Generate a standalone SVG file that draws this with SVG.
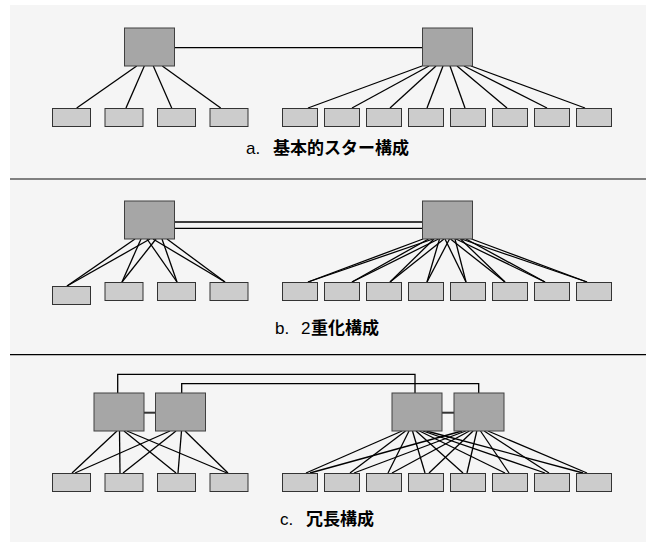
<svg xmlns="http://www.w3.org/2000/svg" width="650" height="542" viewBox="0 0 650 542">
<style>
.bg{fill:#f5f5f5}
.hub{fill:#a6a6a6;stroke:#404040;stroke-width:1}
.leaf{fill:#cccccc;stroke:#333333;stroke-width:1}
.ln{stroke:#000;stroke-width:1.3;fill:none}
.lbl{font-family:"Liberation Sans","Noto Sans CJK JP",sans-serif;font-size:17px;fill:#000}
.jp{font-family:"Noto Sans CJK JP","Liberation Sans",sans-serif;font-weight:bold}
</style>
<rect class="bg" x="10" y="5" width="636" height="537"/>
<line x1="10" y1="179" x2="646" y2="179" stroke="#808080" stroke-width="2"/>
<line x1="10" y1="354.6" x2="646" y2="354.6" stroke="#000" stroke-width="1.4"/>

<g id="connectors">
  <!-- panel a -->
  <line class="ln" x1="174" y1="47.7" x2="422" y2="47.7"/>
  <line class="ln" x1="136.7" y1="66" x2="76.7" y2="108"/>
  <line class="ln" x1="144.3" y1="66" x2="126" y2="108"/>
  <line class="ln" x1="153.3" y1="66" x2="171.7" y2="108"/>
  <line class="ln" x1="162.3" y1="66" x2="220.7" y2="108"/>
  <line class="ln" x1="422" y1="66" x2="308" y2="108"/>
  <line class="ln" x1="429" y1="66" x2="352" y2="108"/>
  <line class="ln" x1="436" y1="66" x2="390" y2="108"/>
  <line class="ln" x1="443" y1="66" x2="427" y2="108"/>
  <line class="ln" x1="450" y1="66" x2="465" y2="108"/>
  <line class="ln" x1="457" y1="66" x2="507" y2="108"/>
  <line class="ln" x1="464" y1="66" x2="547" y2="108"/>
  <line class="ln" x1="471" y1="66" x2="585" y2="108"/>
  <!-- panel b -->
  <line class="ln" x1="174" y1="222" x2="422" y2="222"/>
  <line class="ln" x1="174" y1="228.3" x2="422" y2="228.3"/>
  <line class="ln" x1="135" y1="239" x2="67" y2="286"/>
  <line class="ln" x1="141" y1="239" x2="122" y2="282"/>
  <line class="ln" x1="147" y1="239" x2="177" y2="282"/>
  <line class="ln" x1="153" y1="239" x2="225" y2="282"/>
  <line class="ln" x1="150" y1="239" x2="67" y2="286"/>
  <line class="ln" x1="156" y1="239" x2="122" y2="282"/>
  <line class="ln" x1="162" y1="239" x2="177" y2="282"/>
  <line class="ln" x1="167" y1="239" x2="225" y2="282"/>
  <line class="ln" x1="423" y1="239" x2="308" y2="282"/>
  <line class="ln" x1="428.5" y1="239" x2="352" y2="282"/>
  <line class="ln" x1="434" y1="239" x2="390" y2="282"/>
  <line class="ln" x1="439.5" y1="239" x2="427" y2="282"/>
  <line class="ln" x1="445" y1="239" x2="466" y2="282"/>
  <line class="ln" x1="450.5" y1="239" x2="505" y2="282"/>
  <line class="ln" x1="456" y1="239" x2="545" y2="282"/>
  <line class="ln" x1="461.5" y1="239" x2="587" y2="282"/>
  <line class="ln" x1="433" y1="239" x2="308" y2="282"/>
  <line class="ln" x1="438.5" y1="239" x2="352" y2="282"/>
  <line class="ln" x1="444" y1="239" x2="390" y2="282"/>
  <line class="ln" x1="449.5" y1="239" x2="427" y2="282"/>
  <line class="ln" x1="455" y1="239" x2="466" y2="282"/>
  <line class="ln" x1="460.5" y1="239" x2="505" y2="282"/>
  <line class="ln" x1="466" y1="239" x2="545" y2="282"/>
  <line class="ln" x1="471.5" y1="239" x2="587" y2="282"/>
  <!-- panel c -->
  <polyline class="ln" points="117.7,393 117.7,374.3 415,374.3 415,393"/>
  <polyline class="ln" points="181.7,393 181.7,383.7 478.7,383.7 478.7,393"/>
  <line x1="144" y1="412.7" x2="155" y2="412.7" stroke="#333" stroke-width="2"/>
  <line x1="442" y1="412.7" x2="454" y2="412.7" stroke="#333" stroke-width="2"/>
  <line class="ln" x1="117" y1="431" x2="72" y2="473"/>
  <line class="ln" x1="119.5" y1="431" x2="120" y2="473"/>
  <line class="ln" x1="124" y1="431" x2="176" y2="473"/>
  <line class="ln" x1="127" y1="431" x2="227" y2="473"/>
  <line class="ln" x1="170" y1="431" x2="75" y2="473"/>
  <line class="ln" x1="176" y1="431" x2="123" y2="473"/>
  <line class="ln" x1="181.5" y1="431" x2="178" y2="473"/>
  <line class="ln" x1="185" y1="431" x2="228" y2="473"/>
  <line class="ln" x1="402" y1="431" x2="306" y2="473"/>
  <line class="ln" x1="405.5" y1="431" x2="350" y2="473"/>
  <line class="ln" x1="409" y1="431" x2="388" y2="473"/>
  <line class="ln" x1="412.5" y1="431" x2="425" y2="473"/>
  <line class="ln" x1="416" y1="431" x2="463" y2="473"/>
  <line class="ln" x1="419.5" y1="431" x2="505" y2="473"/>
  <line class="ln" x1="423" y1="431" x2="545" y2="473"/>
  <line class="ln" x1="426.5" y1="431" x2="583" y2="473"/>
  <line class="ln" x1="462" y1="431" x2="310" y2="473"/>
  <line class="ln" x1="465.7" y1="431" x2="354" y2="473"/>
  <line class="ln" x1="469.4" y1="431" x2="392" y2="473"/>
  <line class="ln" x1="473.1" y1="431" x2="429" y2="473"/>
  <line class="ln" x1="476.8" y1="431" x2="467" y2="473"/>
  <line class="ln" x1="480.5" y1="431" x2="509" y2="473"/>
  <line class="ln" x1="484.2" y1="431" x2="549" y2="473"/>
  <line class="ln" x1="488" y1="431" x2="587" y2="473"/>
</g>

<!-- panel a nodes -->
<g id="a-hub-left"><rect class="hub" x="124.5" y="28" width="50" height="38"/></g>
<g id="a-hub-right"><rect class="hub" x="422.5" y="28" width="50" height="38"/></g>
<g id="a-leaf-l1"><rect class="leaf" x="52.5" y="108.5" width="38" height="18"/></g>
<g id="a-leaf-l2"><rect class="leaf" x="105" y="108.5" width="38" height="18"/></g>
<g id="a-leaf-l3"><rect class="leaf" x="157.5" y="108.5" width="38" height="18"/></g>
<g id="a-leaf-l4"><rect class="leaf" x="210" y="108.5" width="38" height="18"/></g>
<g id="a-leaf-r1"><rect class="leaf" x="282.5" y="108.5" width="35" height="18"/></g>
<g id="a-leaf-r2"><rect class="leaf" x="324.5" y="108.5" width="35" height="18"/></g>
<g id="a-leaf-r3"><rect class="leaf" x="366.5" y="108.5" width="35" height="18"/></g>
<g id="a-leaf-r4"><rect class="leaf" x="408.5" y="108.5" width="35" height="18"/></g>
<g id="a-leaf-r5"><rect class="leaf" x="450.5" y="108.5" width="35" height="18"/></g>
<g id="a-leaf-r6"><rect class="leaf" x="492.5" y="108.5" width="35" height="18"/></g>
<g id="a-leaf-r7"><rect class="leaf" x="534.5" y="108.5" width="35" height="18"/></g>
<g id="a-leaf-r8"><rect class="leaf" x="576.5" y="108.5" width="35" height="18"/></g>
<g id="a-label"><text class="lbl" y="154"><tspan x="246">a.</tspan><tspan class="jp" x="273">基本的スター構成</tspan></text></g>

<!-- panel b nodes -->
<g id="b-hub-left"><rect class="hub" x="124.5" y="201" width="50" height="38"/></g>
<g id="b-hub-right"><rect class="hub" x="422.5" y="201" width="50" height="38"/></g>
<g id="b-leaf-l1"><rect class="leaf" x="52.5" y="286.5" width="38" height="18"/></g>
<g id="b-leaf-l2"><rect class="leaf" x="105" y="282.5" width="38" height="18"/></g>
<g id="b-leaf-l3"><rect class="leaf" x="157.5" y="282.5" width="38" height="18"/></g>
<g id="b-leaf-l4"><rect class="leaf" x="210" y="282.5" width="38" height="18"/></g>
<g id="b-leaf-r1"><rect class="leaf" x="282.5" y="282.5" width="35" height="18"/></g>
<g id="b-leaf-r2"><rect class="leaf" x="324.5" y="282.5" width="35" height="18"/></g>
<g id="b-leaf-r3"><rect class="leaf" x="366.5" y="282.5" width="35" height="18"/></g>
<g id="b-leaf-r4"><rect class="leaf" x="408.5" y="282.5" width="35" height="18"/></g>
<g id="b-leaf-r5"><rect class="leaf" x="450.5" y="282.5" width="35" height="18"/></g>
<g id="b-leaf-r6"><rect class="leaf" x="492.5" y="282.5" width="35" height="18"/></g>
<g id="b-leaf-r7"><rect class="leaf" x="534.5" y="282.5" width="35" height="18"/></g>
<g id="b-leaf-r8"><rect class="leaf" x="576.5" y="282.5" width="35" height="18"/></g>
<g id="b-label"><text class="lbl" y="334"><tspan x="275">b.</tspan><tspan x="301">2</tspan><tspan class="jp" x="311">重化構成</tspan></text></g>

<!-- panel c nodes -->
<g id="c-hub-l1"><rect class="hub" x="94" y="393" width="50" height="38"/></g>
<g id="c-hub-l2"><rect class="hub" x="155.5" y="393" width="50" height="38"/></g>
<g id="c-hub-r1"><rect class="hub" x="392" y="393" width="50" height="38"/></g>
<g id="c-hub-r2"><rect class="hub" x="454" y="393" width="50" height="38"/></g>
<g id="c-leaf-l1"><rect class="leaf" x="52.5" y="473.5" width="38" height="18"/></g>
<g id="c-leaf-l2"><rect class="leaf" x="105" y="473.5" width="38" height="18"/></g>
<g id="c-leaf-l3"><rect class="leaf" x="157.5" y="473.5" width="38" height="18"/></g>
<g id="c-leaf-l4"><rect class="leaf" x="210" y="473.5" width="38" height="18"/></g>
<g id="c-leaf-r1"><rect class="leaf" x="282.5" y="473.5" width="35" height="18"/></g>
<g id="c-leaf-r2"><rect class="leaf" x="324.5" y="473.5" width="35" height="18"/></g>
<g id="c-leaf-r3"><rect class="leaf" x="366.5" y="473.5" width="35" height="18"/></g>
<g id="c-leaf-r4"><rect class="leaf" x="408.5" y="473.5" width="35" height="18"/></g>
<g id="c-leaf-r5"><rect class="leaf" x="450.5" y="473.5" width="35" height="18"/></g>
<g id="c-leaf-r6"><rect class="leaf" x="492.5" y="473.5" width="35" height="18"/></g>
<g id="c-leaf-r7"><rect class="leaf" x="534.5" y="473.5" width="35" height="18"/></g>
<g id="c-leaf-r8"><rect class="leaf" x="576.5" y="473.5" width="35" height="18"/></g>
<g id="c-label"><text class="lbl" y="525"><tspan x="280">c.</tspan><tspan class="jp" x="306">冗長構成</tspan></text></g>
</svg>
